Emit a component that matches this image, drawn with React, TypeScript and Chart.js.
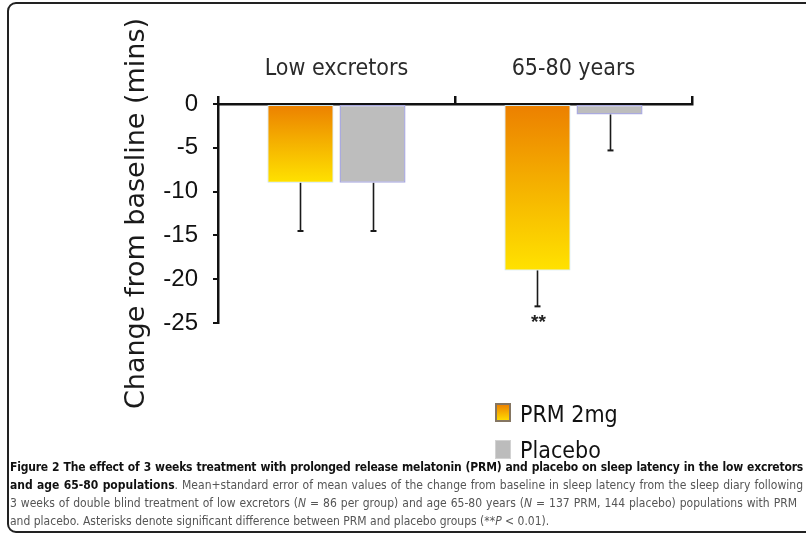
import React, { useEffect, useRef } from 'react';
import { Chart, registerables } from 'chart.js';

Chart.register(...registerables);

// ---- data ----
const categories = ['Low excretors', '65-80 years'];
const seriesNames = ['PRM 2mg', 'Placebo'];
const prmValues = [-9, -19];
const placeboValues = [-9, -1.2];
const prmErrors = [5.5, 4.1];
const placeboErrors = [5.5, 4.1];
const prmSignificance = ['', '**'];
const placeboSignificance = ['', ''];
const yTicks = [0, -5, -10, -15, -20, -25];
const yTitle = 'Change from baseline (mins)';

const NARROW = "'Liberation Sans Narrow', 'Arial Narrow', 'DejaVu Sans Condensed', sans-serif";

const errorsBySeries = [prmErrors, placeboErrors];
const sigBySeries = [prmSignificance, placeboSignificance];

const errorBarPlugin = {
  id: 'errorBars',
  afterDatasetsDraw(chart: any) {
    const ctx = chart.ctx;
    const ys = chart.scales.y;
    chart.data.datasets.forEach((ds: any, di: number) => {
      const meta = chart.getDatasetMeta(di);
      const errs = errorsBySeries[di];
      const sig = sigBySeries[di];
      meta.data.forEach((bar: any, i: number) => {
        const v = ds.data[i];
        const e = errs[i];
        const x = Math.round(bar.x) + 0.5;
        const y0 = bar.y;
        const y1 = ys.getPixelForValue(v - e);
        ctx.save();
        ctx.strokeStyle = '#1a1a1a';
        ctx.lineWidth = 1.6;
        ctx.beginPath();
        ctx.moveTo(x, y0);
        ctx.lineTo(x, y1);
        ctx.stroke();
        ctx.lineWidth = 2;
        ctx.beginPath();
        ctx.moveTo(x - 3, y1);
        ctx.lineTo(x + 3, y1);
        ctx.stroke();
        if (sig[i]) {
          ctx.fillStyle = '#222';
          ctx.font = "bold 19px 'Liberation Sans', Arial, sans-serif";
          ctx.textAlign = 'center';
          ctx.textBaseline = 'top';
          ctx.fillText(sig[i], x + 1, y1 + 7);
        }
        ctx.restore();
      });
    });
  },
};

function prmGradient(c: any) {
  const chart = c.chart;
  if (!chart.chartArea || c.type !== 'data') return '#f5b000';
  const ys = chart.scales.y;
  const top = ys.getPixelForValue(0);
  const bottom = ys.getPixelForValue(c.raw);
  const g = chart.ctx.createLinearGradient(0, top, 0, bottom);
  g.addColorStop(0, '#ec7f00');
  g.addColorStop(0.5, '#f5b200');
  g.addColorStop(1, '#ffe200');
  return g;
}

export default function App() {
  const ref = useRef<HTMLCanvasElement>(null);

  useEffect(() => {
    const canvas = ref.current;
    if (!canvas) return;
    const chart = new Chart(canvas, {
      type: 'bar',
      data: {
        labels: categories,
        datasets: [
          {
            label: seriesNames[0],
            data: prmValues,
            backgroundColor: prmGradient,
            borderColor: '#c9e3ef',
            borderWidth: 1,
            borderSkipped: false,
          },
          {
            label: seriesNames[1],
            data: placeboValues,
            backgroundColor: '#bdbdbd',
            borderColor: '#aaaadf',
            borderWidth: 1.5,
            borderSkipped: false,
          },
        ],
      },
      options: {
        responsive: false,
        animation: false,
        devicePixelRatio: 1,
        categoryPercentage: 0.608,
        barPercentage: 0.917,
        layout: { padding: { left: 0, top: 0, right: 114, bottom: 215 } },
        plugins: {
          legend: { display: false },
          tooltip: { enabled: false },
        },
        scales: {
          x: {
            position: 'top',
            offset: true,
            grid: {
              offset: true,
              drawOnChartArea: false,
              drawTicks: true,
              tickLength: 8,
              color: '#111',
              lineWidth: 2.5,
            },
            border: { display: true, color: '#111', width: 2.5 },
            ticks: {
              color: '#2a2a2a',
              padding: 13,
              font: { family: NARROW, size: 23 },
            },
            afterFit: (s: any) => {
              s.height = 104;
            },
          },
          y: {
            min: -25,
            max: 0,
            afterBuildTicks: (s: any) => {
              s.ticks = yTicks.map((v) => ({ value: v }));
            },
            grid: {
              drawOnChartArea: false,
              drawTicks: true,
              tickLength: 5,
              color: '#111',
              lineWidth: 2,
            },
            border: { display: true, color: '#111', width: 2.5 },
            ticks: {
              color: '#111',
              padding: 15,
              font: { family: "'Liberation Sans', Arial, sans-serif", size: 24 },
            },
            title: {
              display: true,
              text: yTitle,
              color: '#1a1a1a',
              font: { family: "'DejaVu Sans', Verdana, sans-serif", size: 27 },
              padding: { top: 121, bottom: 0 },
            },
            afterFit: (s: any) => {
              s.width = 218;
            },
          },
        },
      },
      plugins: [errorBarPlugin],
    });
    return () => chart.destroy();
  }, []);

  const legendText: React.CSSProperties = {
    position: 'absolute',
    left: 520,
    fontFamily: NARROW,
    fontSize: 23,
    lineHeight: '30px',
    color: '#111',
    whiteSpace: 'nowrap',
  };

  const capBase: React.CSSProperties = {
    position: 'absolute',
    left: 10,
    width: 793,
    fontFamily: NARROW,
    fontSize: 12,
    lineHeight: '18px',
    whiteSpace: 'nowrap',
    color: '#555',
  };
  const just: React.CSSProperties = { ...capBase, textAlign: 'justify', textAlignLast: 'justify' as any };
  const b: React.CSSProperties = { fontWeight: 'bold', color: '#111' };

  return (
    <div
      style={{
        position: 'fixed',
        left: 0,
        top: 0,
        width: 806,
        height: 538,
        background: '#fff',
        overflow: 'hidden',
      }}
    >
      <div
        style={{
          position: 'absolute',
          left: 7,
          top: 2,
          width: 830,
          height: 527,
          border: '2px solid #222',
          borderRadius: 9,
        }}
      />
      <canvas ref={ref} width={806} height={538} style={{ position: 'absolute', left: 0, top: 0, width: 806, height: 538 }} />
      <div
        style={{
          position: 'absolute',
          left: 495,
          top: 403,
          width: 12,
          height: 15,
          border: '2px solid #857662',
          background: 'linear-gradient(#ee8400, #ffd900)',
        }}
      />
      <div style={{ ...legendText, top: 399 }}>{seriesNames[0]}</div>
      <div
        style={{
          position: 'absolute',
          left: 495,
          top: 440,
          width: 14,
          height: 17,
          border: '1px solid #d2d2d2',
          background: '#bcbcbc',
        }}
      />
      <div style={{ ...legendText, top: 435 }}>{seriesNames[1]}</div>

      <div style={{ ...just, top: 458, letterSpacing: '-0.2px' }}>
        <span style={b}>
          Figure 2 The effect of 3 weeks treatment with prolonged release melatonin (PRM) and placebo on sleep latency in the low excretors
        </span>
      </div>
      <div style={{ ...just, top: 476 }}>
        <span style={b}>and age 65-80 populations</span>. Mean+standard error of mean values of the change from baseline in sleep latency from the sleep diary following
      </div>
      <div style={{ ...just, top: 494, width: 787 }}>
        3 weeks of double blind treatment of low excretors (<i>N</i> = 86 per group) and age 65-80 years (<i>N</i> = 137 PRM, 144 placebo) populations with PRM
      </div>
      <div style={{ ...capBase, top: 512 }}>
        and placebo. Asterisks denote significant difference between PRM and placebo groups (**<i>P</i> &lt; 0.01).
      </div>
    </div>
  );
}
